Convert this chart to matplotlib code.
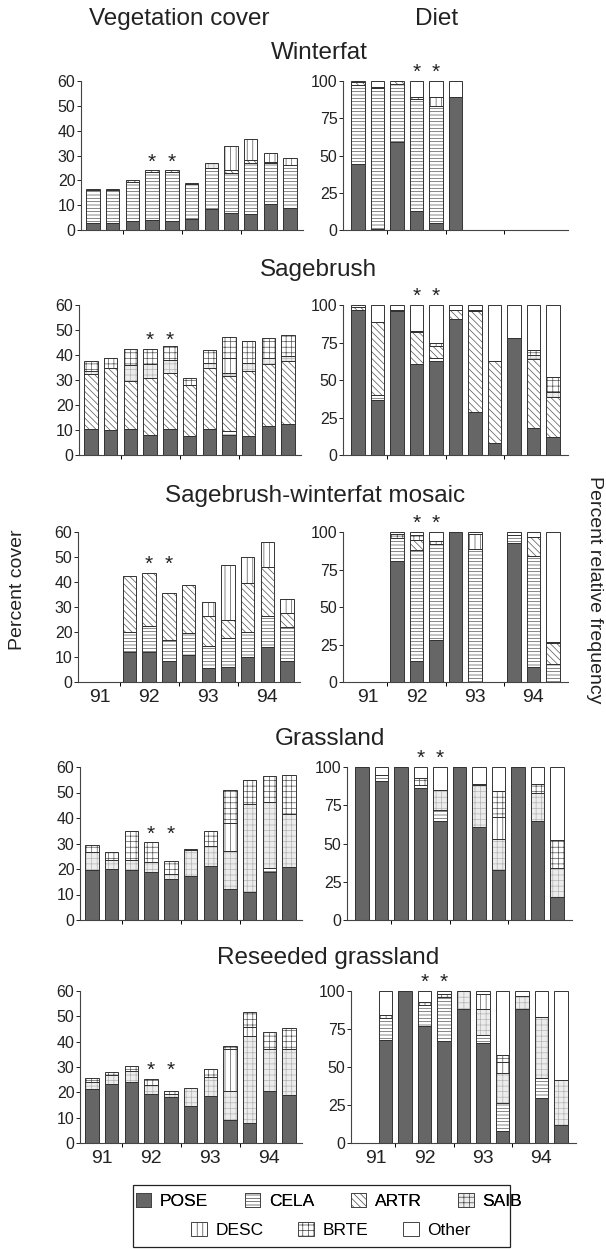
import matplotlib.pyplot as plt
from matplotlib.patches import Patch, Rectangle

plt.rcParams["font.family"] = ["Liberation Sans", "DejaVu Sans"]
plt.rcParams["hatch.linewidth"] = 0.5

# stack order, bottom to top
species = ["POSE", "CELA", "ARTR", "SAIB", "DESC", "BRTE", "Other"]
years = ["91", "92", "93", "94"]
habitats = ["Winterfat", "Sagebrush", "Sagebrush-winterfat mosaic",
            "Grassland", "Reseeded grassland"]

# each row: one sampling date, values for POSE..Other (None = no sample)
winterfat_cover = [
    [2.7, 13.3, 0.5, 0, 0, 0, 0],
    [2.7, 13.3, 0.5, 0, 0, 0, 0],
    [3.5, 16.0, 0.5, 0, 0, 0, 0],
    [4.0, 19.5, 0.5, 0, 0, 0, 0],
    [3.5, 20.0, 0.5, 0, 0, 0, 0],
    [4.5, 14.0, 0.5, 0, 0, 0, 0],
    [8.5, 16.5, 0, 2.0, 0, 0, 0],
    [6.7, 16.3, 1.0, 0, 10.0, 0, 0],
    [6.3, 20.7, 1.0, 0, 8.8, 0, 0],
    [10.5, 16.5, 0.5, 0, 3.5, 0, 0],
    [9.0, 17.0, 0, 0, 3.0, 0, 0],
]
winterfat_diet = [
    [44, 53, 2, 0, 0, 0, 1],
    [1, 94, 1, 0, 0, 0, 4],
    [59, 39, 2, 0, 0, 0, 0],
    [13, 75, 1, 0, 0, 0, 11],
    [5, 78, 0, 0, 6, 0, 11],
    [89, 0, 0, 0, 0, 0, 11],
    None, None, None, None, None,
]
sagebrush_cover = [
    [10.5, 0, 22.0, 1.0, 0, 4.0, 0],
    [10.0, 0, 25.0, 0, 0, 4.0, 0],
    [10.3, 0, 19.4, 6.3, 0, 6.5, 0],
    [8.0, 0, 23.0, 5.5, 0, 6.0, 0],
    [10.3, 0, 22.7, 5.0, 0, 5.7, 0],
    [7.7, 0, 20.3, 0, 0, 3.0, 0],
    [10.3, 0, 24.7, 2.0, 0, 5.0, 0],
    [8.0, 1.5, 22.2, 1.3, 6.0, 8.3, 0],
    [7.6, 0, 26.1, 3.0, 0, 9.0, 0],
    [11.7, 0, 24.7, 2.5, 0, 7.9, 0],
    [12.3, 0, 25.2, 2.0, 0, 8.5, 0],
]
sagebrush_diet = [
    [97, 0, 2, 0, 0, 0, 1],
    [37, 3, 49, 0, 0, 0, 11],
    [96, 0, 1, 0, 0, 0, 3],
    [61, 0, 21, 0, 0, 1, 17],
    [63, 2, 8, 0, 0, 2, 25],
    [91, 0, 6, 0, 0, 0, 3],
    [29, 0, 67, 0, 0, 1, 3],
    [8, 0, 55, 0, 0, 0, 37],
    [78, 0, 0, 0, 0, 0, 22],
    [18, 0, 46, 3, 0, 3, 30],
    [12, 0, 27, 3, 0, 10, 48],
]
mosaic_cover = [
    None, None,
    [12.0, 8.0, 22.3, 0, 0, 0, 0],
    [12.0, 10.3, 21.3, 0, 0, 0, 0],
    [8.5, 8.2, 18.9, 0, 0, 0, 0],
    [10.7, 8.9, 19.1, 0, 0, 0, 0],
    [5.5, 8.9, 12.0, 0, 5.6, 0, 0],
    [6.0, 11.5, 7.5, 0, 21.7, 0, 0],
    [10.0, 10.0, 19.6, 0, 10.4, 0, 0],
    [14.0, 12.4, 19.6, 0, 10.0, 0, 0],
    [8.4, 13.6, 5.6, 0, 5.7, 0, 0],
]
mosaic_diet = [
    None, None,
    [81, 15, 0, 0, 0, 3, 1],
    [14, 74, 7, 0, 0, 3, 2],
    [28, 64, 0, 0, 0, 2, 6],
    [100, 0, 0, 0, 0, 0, 0],
    [0, 89, 0, 0, 10, 0, 1],
    None,
    [93, 5, 0, 0, 0, 0, 2],
    [10, 74, 13, 0, 0, 0, 3],
    [0, 12, 14, 0, 0, 1, 73],
]
grassland_cover = [
    [19.7, 0, 0, 6.8, 0, 3.0, 0],
    [20.0, 0, 0, 3.5, 0, 3.2, 0],
    [19.5, 0, 0, 4.0, 0, 11.5, 0],
    [18.7, 0, 0, 4.0, 0, 7.8, 0],
    [16.0, 0, 0, 2.0, 0, 5.0, 0],
    [17.3, 0, 0, 10.0, 0, 0.7, 0],
    [21.2, 0, 0, 7.8, 0, 6.0, 0],
    [12.0, 0, 0, 15.2, 10.8, 13.0, 0],
    [11.0, 0, 0, 34.6, 0, 9.4, 0],
    [19.0, 1.5, 0, 25.8, 0, 10.2, 0],
    [20.7, 0, 0, 20.9, 0, 15.4, 0],
]
grassland_diet = [
    [100, 0, 0, 0, 0, 0, 0],
    [91, 4, 0, 0, 0, 0, 5],
    [100, 0, 0, 0, 0, 0, 0],
    [86, 2, 0, 0, 0, 5, 7],
    [65, 7, 0, 13, 0, 0, 15],
    [100, 0, 0, 0, 0, 0, 0],
    [61, 0, 0, 27, 0, 1, 11],
    [33, 0, 0, 20, 14, 17, 16],
    [100, 0, 0, 0, 0, 0, 0],
    [65, 0, 0, 18, 0, 6, 11],
    [15, 0, 0, 19, 0, 18, 48],
]
reseeded_cover = [
    [21.5, 0, 0, 2.7, 0, 1.5, 0],
    [23.3, 0, 0, 3.5, 0, 1.2, 0],
    [24.0, 0, 0, 4.5, 0, 1.8, 0],
    [19.5, 0, 0, 3.5, 0, 2.4, 0],
    [18.1, 0, 0, 1.2, 0, 1.1, 0],
    [14.5, 0, 0, 7.2, 0, 0, 0],
    [18.7, 0, 0, 7.3, 0, 3.3, 0],
    [9.0, 0, 0, 11.7, 16.5, 1.1, 0],
    [7.8, 0, 0, 34.5, 3.3, 6.2, 0],
    [20.7, 0, 0, 16.3, 0, 7.0, 0],
    [19.0, 0, 0, 18.0, 0, 8.2, 0],
]
reseeded_diet = [
    None,
    [67.5, 15, 0, 0, 0, 1.5, 16],
    [100, 0, 0, 0, 0, 0, 0],
    [77, 14, 0, 0, 0, 2, 7],
    [67, 29, 0, 0, 0, 2, 2],
    [88, 0, 0, 12, 0, 0, 0],
    [66, 5, 0, 17, 10, 0, 2],
    [8, 18, 0, 20, 7, 5, 42],
    [88, 0, 0, 9, 0, 0, 3],
    [29.5, 13, 0, 40.5, 0, 0, 17],
    [12, 0, 0, 29.5, 0, 0, 58.5],
]
starred = [3, 4]

cover_sets = [winterfat_cover, sagebrush_cover, mosaic_cover, grassland_cover, reseeded_cover]
diet_sets = [winterfat_diet, sagebrush_diet, mosaic_diet, grassland_diet, reseeded_diet]

# face, hatch, hatch colour
styles = {
    "POSE": ("#666666", "", "#666666"),
    "CELA": ("white", "-----", "#555555"),
    "ARTR": ("white", "\\\\\\\\\\", "#555555"),
    "SAIB": ("#ececec", "+++", "#b4b4b4"),
    "DESC": ("white", "|||", "#555555"),
    "BRTE": ("white", "+++", "#555555"),
    "Other": ("white", "", "white"),
}
edge = "#333333"

W, H = 606, 1249
fig = plt.figure(figsize=(W / 100, H / 100), dpi=100)


def px_axes(x0, x1, top, bottom):
    return fig.add_axes([x0 / W, 1 - bottom / H, (x1 - x0) / W, (bottom - top) / H])


def draw_panel(ax, data, ymax, yticks, xlim, show_years):
    for i, row in enumerate(data):
        if row is None:
            continue
        base = 0
        for sp, v in zip(species, row):
            if v <= 0:
                continue
            face, hatch, hcol = styles[sp]
            ax.bar(i, v, bottom=base, width=0.68, color=face, hatch=hatch,
                   edgecolor=hcol, linewidth=0)
            ax.bar(i, v, bottom=base, width=0.68, fill=False,
                   edgecolor=edge, linewidth=0.7)
            base += v
    ref = data[starred[0]]
    top = sum(ref) if ref is not None else ymax
    for s in starred:
        ax.annotate("*", xy=(s, top), xytext=(0, 2), textcoords="offset points",
                    ha="center", va="baseline", fontsize=15, color="#222222",
                    annotation_clip=False)
    ax.set_xlim(*xlim)
    ax.set_ylim(0, ymax)
    ax.set_yticks(yticks)
    ax.tick_params(axis="y", labelsize=11.5, length=3, width=0.7, pad=1,
                   colors="#222222")
    ax.set_xticks([1.5, 4.5, 7.5])
    ax.set_xticklabels([])
    ax.tick_params(axis="x", which="major", length=3, width=0.7)
    if show_years:
        ax.set_xticks([0.5, 3, 6, 9], minor=True)
        ax.set_xticklabels(years, minor=True, fontsize=14, color="#222222")
        ax.tick_params(axis="x", which="minor", length=0, pad=5)
    for side in ["top", "right"]:
        ax.spines[side].set_visible(False)
    for side in ["left", "bottom"]:
        ax.spines[side].set_linewidth(0.8)
        ax.spines[side].set_color("#444444")


rows_px = [(81, 230), (305, 455), (532, 682), (767, 920), (991, 1143)]
left_x0 = [81, 79, 78, 80, 80]
right_x0 = [343, 343, 343, 347, 351]
title_pos = [(319, 59), (318, 276), (315, 502), (330, 745), (328, 964)]

for r in range(5):
    top, bottom = rows_px[r]
    show = r in (2, 4)
    axl = px_axes(left_x0[r], left_x0[r] + 222, top, bottom)
    draw_panel(axl, cover_sets[r], 60, range(0, 61, 10), (-0.61, 10.66), show)
    axr = px_axes(right_x0[r], right_x0[r] + 225, top, bottom)
    draw_panel(axr, diet_sets[r], 100, [0, 25, 50, 75, 100], (-0.77, 10.77), show)
    tx, ty = title_pos[r]
    fig.text(tx / W, 1 - ty / H, habitats[r], ha="center", va="baseline",
             fontsize=17.5, color="#222222")

fig.text(179 / W, 1 - 25 / H, "Vegetation cover", ha="center", va="baseline",
         fontsize=17.5, color="#222222")
fig.text(437 / W, 1 - 25 / H, "Diet", ha="center", va="baseline",
         fontsize=17.5, color="#222222")
fig.text(18 / W, 1 - 590 / H, "Percent cover", rotation=90, ha="center",
         va="center", fontsize=14, color="#222222")
fig.text(595 / W, 1 - 590 / H, "Percent relative frequency", rotation=-90,
         ha="center", va="center", fontsize=14, color="#222222")

# legend box and two rows of entries
fig.patches.append(Rectangle((133 / W, 1 - 1247 / H), (510 - 133) / W, 62 / H,
                             transform=fig.transFigure, fill=False,
                             edgecolor="#222222", linewidth=0.9))
handles = [Patch(facecolor=styles[sp][0], hatch=styles[sp][1],
                 edgecolor="#444444", linewidth=0.7, label=sp) for sp in species]
leg_kw = dict(frameon=False, fontsize=12.5, handlelength=0.9, handleheight=0.9,
              handletextpad=0.5, borderpad=0, loc="center")
leg1 = fig.legend(handles=handles[:4], ncol=4, columnspacing=2.1,
                  bbox_to_anchor=(329 / W, 1 - 1201 / H), **leg_kw)
leg2 = fig.legend(handles=handles[4:], ncol=3, columnspacing=2.0,
                  bbox_to_anchor=(331 / W, 1 - 1230 / H), **leg_kw)
fig.add_artist(leg1)

fig.savefig("out.png", dpi=100)
